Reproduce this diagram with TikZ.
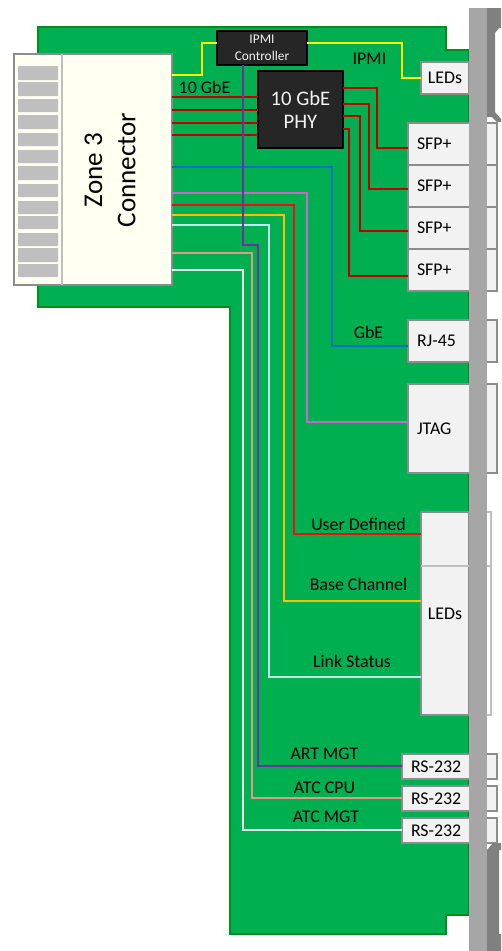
\documentclass[tikz,border=0pt]{standalone}
\usepackage{fontspec}
\setmainfont{Carlito}
\definecolor{board}{HTML}{00B050}
\definecolor{boardedge}{HTML}{078A1E}
\definecolor{boxedge}{HTML}{8C8C8C}
\definecolor{boxfill}{HTML}{F2F2F2}
\definecolor{zonefill}{HTML}{FFFFF2}
\definecolor{chip}{HTML}{262626}
\definecolor{plate}{HTML}{A6A6A6}
\definecolor{handle}{HTML}{808080}
\definecolor{finger}{HTML}{BFBFBF}
\definecolor{wyellow}{HTML}{FFFF00}
\definecolor{wdred}{HTML}{C00000}
\definecolor{wblue}{HTML}{0070C0}
\definecolor{wpink}{HTML}{CC66CC}
\definecolor{wred}{HTML}{EE1010}
\definecolor{worange}{HTML}{FFC000}
\definecolor{wlblue}{HTML}{C5E6EC}
\definecolor{wpurple}{HTML}{7030A0}
\definecolor{wtan}{HTML}{E09A88}
\definecolor{wwhite}{HTML}{E8F6EE}
\tikzset{
  wire/.style={line width=1.4pt,line join=miter},
  boxbase/.style={draw=boxedge,fill=boxfill,line width=1.1pt,inner sep=0pt,outer sep=0pt,anchor=west,font=\fontsize{13.4}{15}\selectfont},
  sfpbox/.style={boxbase,text width=53.25pt,inner xsep=6.75pt,align=left},
  rsbox/.style={boxbase,text width=57.75pt,inner xsep=6.75pt,align=left},
  chipbox/.style={draw=black,fill=chip,line width=1.1pt,inner sep=0pt,outer sep=0pt,text=boxfill,align=center},
  lbl/.style={inner sep=0pt,font=\fontsize{13.4}{15}\selectfont},
  fingerbar/.style={fill=finger,rounded corners=0.5pt}
}
\begin{document}
\begin{tikzpicture}[x=0.75pt,y=-0.75pt]
\useasboundingbox (0,0) rectangle (501,951);
% board
\draw[fill=board,draw=boardedge,line width=1.1pt]
  (38,27) -- (446,27) -- (446,50) -- (469,50) -- (469,915) -- (446,915) -- (446,934) -- (230,934) -- (230,307) -- (38,307) -- cycle;
% zone 3 connector
\node[draw=boxedge,fill=zonefill,line width=1.1pt,minimum width=118.5pt,minimum height=173.25pt,inner sep=0pt,outer sep=0pt,anchor=north west] (zone) at (14,54) {};
\draw[finger,line width=1.1pt] (62,54) -- (62,285);
\foreach \a/\b in {66/80,82/96,99/112,115/129,133/146,150/163,166/180,184/197,201/214,216/229,233/246,248/262,264/277}
  \fill[fingerbar] (18,\a) rectangle (58,\b);
\node[rotate=90,align=center,inner sep=0pt,font=\fontsize{20.3}{25}\selectfont] (zonetext) at (110,170) {Zone 3\\Connector};
% chips
\node[chipbox,minimum width=67.5pt,minimum height=25.5pt,font=\fontsize{10}{12.5}\selectfont] (ctrl) at (262,48) {IPMI\\Controller};
\node[chipbox,minimum width=63.75pt,minimum height=57.75pt,font=\fontsize{15.5}{17.5}\selectfont] (phy) at (300.5,109.5) {10 GbE\\PHY};
% ports
\fill[boxfill] (469,62) rectangle (490,92);
\node[boxbase,minimum width=36pt,minimum height=24pt,anchor=center] (ledtop) at (445,78) {LEDs};
\node[sfpbox,minimum height=31.5pt] (sfpa) at (408,144) {SFP+};
\node[sfpbox,minimum height=31.5pt] (sfpb) at (408,186) {SFP+};
\node[sfpbox,minimum height=31.5pt] (sfpc) at (408,228) {SFP+};
\node[sfpbox,minimum height=31.5pt] (sfpd) at (408,270) {SFP+};
\node[sfpbox,minimum height=31.5pt] (rj) at (408,341) {RJ-45};
\node[sfpbox,minimum height=66.75pt] (jtag) at (408,428.5) {JTAG};
\draw[finger,line width=1.1pt] (469,512) -- (491,512) -- (491,715) -- (469,715);
\node[boxbase,minimum width=36pt,minimum height=152.25pt,anchor=center] (ledbig) at (445,613.5) {LEDs};
\draw[finger,line width=1.1pt] (421,566) -- (490,566);
\node[rsbox,minimum height=18.75pt] (rsa) at (402,766.5) {RS-232};
\node[rsbox,minimum height=18.75pt] (rsb) at (402,798.5) {RS-232};
\node[rsbox,minimum height=18.75pt] (rsc) at (402,830.5) {RS-232};
% faceplate and handles
\fill[handle] (487,8) -- (501,8) -- (501,28) -- (499,28) -- (495,33) -- (495,112) -- (501,119) -- (501,122) -- (497,122) -- (492,117) -- (487,117) -- cycle;
\fill[handle] (487,850) -- (493,843) -- (501,843) -- (501,850) -- (499,850) -- (499,934) -- (501,934) -- (501,951) -- (487,951) -- cycle;
\fill[plate] (469,8) rectangle (487,951);
% wires
\draw[wire,wyellow] (zone.east |- 0,75) -- (202,75) -- (202,43) -- (ctrl.west |- 0,43);
\draw[wire,wyellow] (ctrl.east |- 0,43) -- (402,43) -- (402,78) -- (ledtop.west);
\draw[wire,wdred] (zone.east |- 0,97) -- (phy.west |- 0,97);
\draw[wire,wdred] (zone.east |- 0,110) -- (phy.west |- 0,110);
\draw[wire,wdred] (zone.east |- 0,123) -- (phy.west |- 0,123);
\draw[wire,wdred] (zone.east |- 0,135) -- (phy.west |- 0,135);
\draw[wire,wdred] (phy.east |- 0,88) -- (377,88) -- (377,148) -- (sfpa.west |- 0,148);
\draw[wire,wdred] (phy.east |- 0,104) -- (369,104) -- (369,189) -- (sfpb.west |- 0,189);
\draw[wire,wdred] (phy.east |- 0,116) -- (360,116) -- (360,231) -- (sfpc.west |- 0,231);
\draw[wire,wdred] (phy.east |- 0,129) -- (349,129) -- (349,276) -- (sfpd.west |- 0,276);
\draw[wire,wblue] (zone.east |- 0,167) -- (332,167) -- (332,346) -- (rj.west |- 0,346);
\draw[wire,wpink] (zone.east |- 0,193) -- (307,193) -- (307,422) -- (jtag.west |- 0,422);
\draw[wire,wred] (zone.east |- 0,205) -- (294,205) -- (294,534) -- (ledbig.west |- 0,534);
\draw[wire,worange] (zone.east |- 0,215) -- (284,215) -- (284,601) -- (ledbig.west |- 0,601);
\draw[wire,wlblue] (zone.east |- 0,225) -- (269,225) -- (269,677) -- (ledbig.west |- 0,677);
\draw[wire,wtan] (zone.east |- 0,253) -- (252,253) -- (252,798) -- (rsb.west |- 0,798);
\draw[wire,wwhite] (zone.east |- 0,270) -- (243,270) -- (243,830) -- (rsc.west |- 0,830);
\draw[wire,wpurple] (ctrl.south -| 243,0) -- (243,245) -- (258,245) -- (258,766) -- (rsa.west |- 0,766);
% labels
\node[lbl] (l10g) at (204.5,87) {10 GbE};
\node[lbl] (lipmi) at (369.5,59) {IPMI};
\node[lbl] (lgbe) at (368.5,332) {GbE};
\node[lbl] (luser) at (358.5,524.5) {User Defined};
\node[lbl] (lbase) at (358.5,584.5) {Base Channel};
\node[lbl] (llink) at (352,661) {Link Status};
\node[lbl] (lart) at (324.5,753.5) {ART MGT};
\node[lbl] (lcpu) at (324.5,788) {ATC CPU};
\node[lbl] (lmgt) at (326,817) {ATC MGT};
\end{tikzpicture}
\end{document}
